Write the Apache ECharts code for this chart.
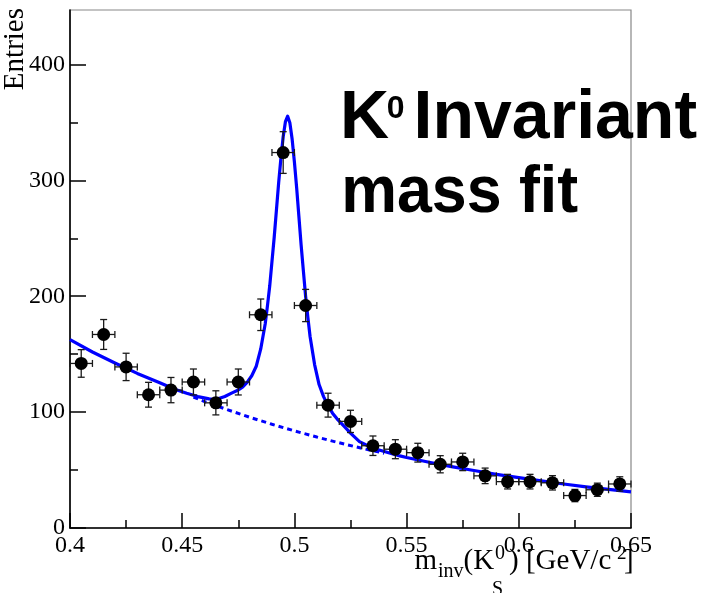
<!DOCTYPE html>
<html>
<head>
<meta charset="utf-8">
<script src="https://cdn.jsdelivr.net/npm/echarts@6/dist/echarts.min.js"></script>
<style>
html,body{margin:0;padding:0;background:#fff;}
#chart{width:701px;height:593px;}
</style>
</head>
<body>
<div id="chart"></div>
<script>
// ---- data ----
const binCenters = [0.405,0.415,0.425,0.435,0.445,0.455,0.465,0.475,0.485,0.495,0.505,0.515,0.525,0.535,0.545,0.555,0.565,0.575,0.585,0.595,0.605,0.615,0.625,0.635,0.645];
const entries    = [142,167,139,115,119,126,108,126,184,324,192,106,92,71,68,65,55,57,45,40,40,39,28,33,38];
const errY       = [11.9,12.9,11.8,10.7,10.9,11.2,10.4,11.2,13.6,18.0,13.9,10.3,9.6,8.4,8.2,8.1,7.4,7.5,6.7,6.3,6.3,6.2,5.3,5.7,6.2];
const errX       = 0.005;

// total fit curve (signal + background)
const fitX = [0.400,0.410,0.420,0.430,0.440,0.447,0.452,0.457,0.462,0.465,0.469,0.472,0.475,0.477,0.479,0.481,0.483,0.485,
              0.487,0.488,0.489,0.490,0.491,0.492,0.493,0.494,0.495,0.496,0.497,0.498,0.499,0.500,0.501,0.502,0.503,0.504,0.505,0.506,0.507,
              0.509,0.511,0.513,0.515,0.517,0.519,0.522,0.525,0.529,0.532,0.537,0.542,0.547,
              0.550,0.560,0.570,0.580,0.590,0.600,0.610,0.620,0.630,0.640,0.650];
const fitY = [162.5,151.9,142.4,133.4,125.3,119.6,116.3,113.4,111.4,110.9,113.5,116.4,119.1,121.8,125.9,131.4,139.6,154.5,
              176.3,191.9,208.8,229.8,250.9,274.6,298.3,319.3,337.6,350.6,355.4,349.4,335.4,315.9,293.8,268.9,244.1,221.9,199.8,181.8,165.0,
              141.0,123.8,113.4,105.5,99.1,94.2,88.1,81.8,74.5,71.6,67.8,64.9,62.2,
              60.8,56.7,53.0,49.6,46.3,43.4,40.6,38.0,35.5,33.3,31.2];

// background component (dashed), where it separates from the total curve
const bkgX = [0.455,0.460,0.470,0.480,0.490,0.500,0.510,0.520,0.530,0.540];
const bkgY = [113.0,109.1,102.2,95.6,89.5,83.8,78.5,73.5,68.8,64.5];

const xTicks = [0.4,0.45,0.5,0.55,0.6,0.65];
const yTicks = [0,100,200,300,400];
const yMinorTicks = [50,150,250,350];

// ---- chart ----
const chart = echarts.init(document.getElementById('chart'), null, {renderer:'canvas'});
const serif = '"Liberation Serif","Times New Roman",serif';
const sans = '"Liberation Sans",Arial,sans-serif';
const black = '#000';

function txt(text, x, y, size, opts) {
  opts = opts || {};
  return {
    type:'text', x:x, y:y, z:100, silent:true,
    rotation: opts.rotation || 0,
    scaleX: opts.scaleX || 1,
    scaleY: opts.scaleY || 1,
    style:{
      text:text, fill:'#000',
      font:(opts.weight||'normal')+' '+size+'px '+(opts.family||serif),
      textAlign: opts.align || 'left',
      textVerticalAlign:'middle'
    }
  };
}

const option = {
  animation:false,
  backgroundColor:'#fff',
  grid:{left:70,right:70,top:10,bottom:65,show:true,borderColor:'#888',borderWidth:1.2,backgroundColor:'transparent',outerBoundsMode:'none',containLabel:false},
  xAxis:{
    type:'value', min:0.4, max:0.65, interval:0.05,
    axisLine:{show:true,onZero:false,lineStyle:{color:black,width:1.6}},
    axisTick:{show:true,inside:true,length:15,lineStyle:{color:black,width:1.5}},
    minorTick:{show:true,splitNumber:2,length:8,lineStyle:{color:black,width:1.5}},
    splitLine:{show:false}, minorSplitLine:{show:false},
    axisLabel:{show:true,margin:6,color:black,fontSize:24,fontFamily:serif,
      customValues:xTicks,
      formatter:function(v){return String(+v.toFixed(3));}}
  },
  yAxis:[{
    type:'value', min:0, max:447, interval:100,
    axisLine:{show:true,onZero:false,lineStyle:{color:black,width:1.6}},
    axisTick:{show:true,inside:true,length:16,customValues:yTicks,lineStyle:{color:black,width:1.5}},
    splitLine:{show:false},
    axisLabel:{show:true,margin:5,color:black,fontSize:24,fontFamily:serif,customValues:yTicks}
  },{
    type:'value', min:0, max:447, position:'left',
    axisLine:{show:false},
    axisTick:{show:true,inside:true,length:8,customValues:yMinorTicks,lineStyle:{color:black,width:1.5}},
    axisLabel:{show:false}, splitLine:{show:false}
  }],
  series:[
    {
      type:'line', name:'background', z:2,
      data:bkgX.map((x,i)=>[x,bkgY[i]]),
      showSymbol:false, smooth:false,
      lineStyle:{color:'#0000ff',width:3,type:[5,4]}
    },
    {
      type:'line', name:'fit', z:3,
      data:fitX.map((x,i)=>[x,fitY[i]]),
      showSymbol:false, smooth:false,
      lineStyle:{color:'#0000ff',width:3.2,join:'round'}
    },
    {
      type:'custom', name:'errors', z:4,
      data:binCenters.map((x,i)=>[x,entries[i],errX,errY[i]]),
      encode:{x:0,y:1},
      renderItem:function(params, api){
        const x=api.value(0), y=api.value(1), ex=api.value(2), ey=api.value(3);
        const l=api.coord([x-ex,y]), r=api.coord([x+ex,y]);
        const t=api.coord([x,y+ey]), b=api.coord([x,y-ey]);
        const cap=3.5;
        const st={stroke:'#1a1a1a',lineWidth:1.3};
        const ln=(x1,y1,x2,y2)=>({type:'line',shape:{x1,y1,x2,y2},style:st});
        return {type:'group',children:[
          ln(l[0],l[1],r[0],r[1]),
          ln(t[0],t[1],b[0],b[1]),
          ln(l[0],l[1]-cap,l[0],l[1]+cap),
          ln(r[0],r[1]-cap,r[0],r[1]+cap),
          ln(t[0]-cap,t[1],t[0]+cap,t[1]),
          ln(b[0]-cap,b[1],b[0]+cap,b[1])
        ]};
      }
    },
    {
      type:'scatter', name:'data', z:5,
      data:binCenters.map((x,i)=>[x,entries[i]]),
      symbol:'circle', symbolSize:13,
      itemStyle:{color:'#000',opacity:1}
    }
  ],
  graphic:{elements:[
    txt('Entries', 15.2, 8, 29, {rotation:Math.PI/2, align:'right'}),
    txt('m', 414.5, 561.5, 29),
    txt('inv', 438, 571.3, 20),
    txt('(K', 463.5, 561.5, 29),
    txt('S', 492, 590, 20),
    txt('0', 495, 553.7, 20),
    txt(') [GeV/c', 509, 561.5, 29),
    txt('2', 617, 554.4, 19),
    txt(']', 624, 561.5, 29),
    txt('K', 340, 119.7, 68, {weight:'bold', family:sans}),
    txt('0', 386.7, 109.6, 32, {weight:'bold', family:sans}),
    txt('Invariant', 413.6, 119.7, 68, {weight:'bold', family:sans}),
    txt('mass fit', 341.2, 193.5, 66, {weight:'bold', family:sans, scaleX:0.95})
  ]}
};
chart.setOption(option);
</script>
</body>
</html>
